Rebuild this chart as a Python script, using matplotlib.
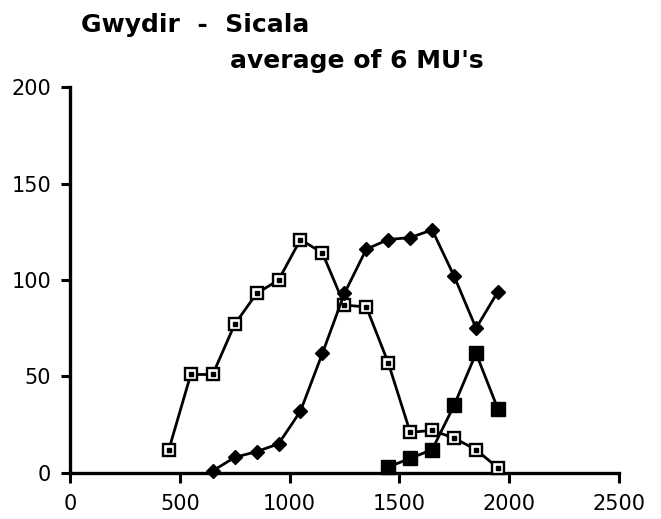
import matplotlib.pyplot as plt

plt.rcParams['font.family'] = ['DejaVu Sans']

# sampling positions
x_open = [450, 550, 650, 750, 850, 950, 1050, 1150, 1250, 1350, 1450, 1550, 1650, 1750, 1850, 1950]
y_open = [12, 51, 51, 77, 93, 100, 121, 114, 87, 86, 57, 21, 22, 18, 12, 2.5]

x_diam = [650, 750, 850, 950, 1050, 1150, 1250, 1350, 1450, 1550, 1650, 1750, 1850, 1950]
y_diam = [1, 8, 11, 15, 32, 62, 93, 116, 121, 122, 126, 102, 75, 94]

x_fill = [1450, 1550, 1650, 1750, 1850, 1950]
y_fill = [3, 7.5, 12, 35, 62, 33]

xticks = [0, 500, 1000, 1500, 2000, 2500]
yticks = [0, 50, 100, 150, 200]

fig = plt.figure(figsize=(6.61, 5.19), dpi=100)
ax = fig.add_axes([0.106, 0.089, 0.830, 0.743])

lw = 2.0
# open squares with a dot in the middle
ax.plot(x_open, y_open, color='black', lw=lw, marker='s', ms=9,
        mfc='white', mec='black', mew=1.7, clip_on=False, zorder=3)
ax.plot(x_open, y_open, ls='none', marker='s', ms=2.4, mfc='black',
        mec='black', clip_on=False, zorder=4)
# filled diamonds
ax.plot(x_diam, y_diam, color='black', lw=lw, marker='D', ms=7.5,
        mfc='black', mec='black', clip_on=False, zorder=3)
# filled squares
ax.plot(x_fill, y_fill, color='black', lw=lw, marker='s', ms=9.5,
        mfc='black', mec='black', clip_on=False, zorder=3)

ax.set_xlim(0, 2500)
ax.set_ylim(0, 200)
ax.set_xticks(xticks)
ax.set_yticks(yticks)
for s in ['top', 'right']:
    ax.spines[s].set_visible(False)
for s in ['left', 'bottom']:
    ax.spines[s].set_linewidth(2.4)
ax.tick_params(axis='y', direction='out', length=6.5, width=2.2, pad=7, labelsize=15)
ax.tick_params(axis='x', direction='out', length=7, width=2.2, pad=8, labelsize=15)

fig.text(81 / 661, 1 - 32 / 519, "Gwydir  -  Sicala", fontsize=18,
         fontweight='bold', ha='left', va='baseline')
fig.text(230 / 661, 1 - 68 / 519, "average of 6 MU's", fontsize=18,
         fontweight='bold', ha='left', va='baseline')

fig.savefig('out.png', dpi=100)
